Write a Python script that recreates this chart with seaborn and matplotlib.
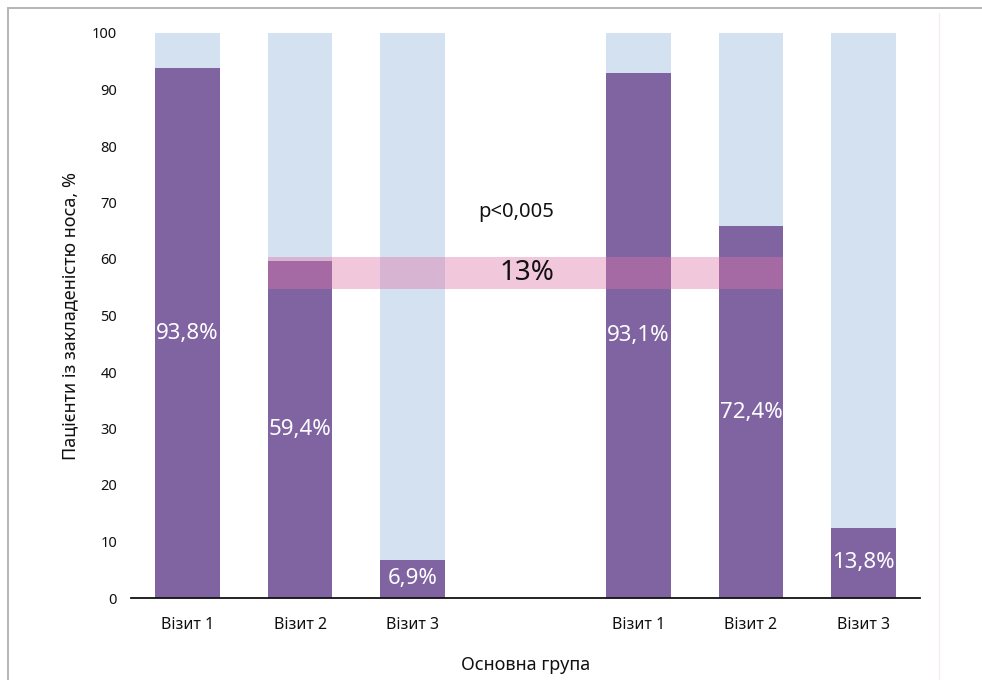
import matplotlib
matplotlib.use("Agg")
import matplotlib.pyplot as plt
from matplotlib.patches import Rectangle
from matplotlib.lines import Line2D
import seaborn as sns
import pandas as pd

# ---- data ----
visits = ["Візит 1", "Візит 2", "Візит 3"]
groups = ["Основна", "Контрольна"]
main_values = [93.8, 59.6, 6.8]          # bar heights as drawn
control_values = [93.0, 65.8, 12.4]
main_labels = ["93,8%", "59,4%", "6,9%"]
control_labels = ["93,1%", "72,4%", "13,8%"]
total = 100
band_low, band_high = 54.7, 60.3
band_text = "13%"
p_text = "p<0,005"
y_label = "Пацієнти із закладеністю носа, %"
x_label = "Основна група"

keys_main = [f"{groups[0]} {v}" for v in visits]
keys_ctrl = [f"{groups[1]} {v}" for v in visits]
order = keys_main + ["gap"] + keys_ctrl
df = pd.DataFrame({
    "key": keys_main + keys_ctrl,
    "value": main_values + control_values,
    "label": main_labels + control_labels,
    "total": [total] * 6,
})

sns.set_theme(style="white")
plt.rcParams["font.family"] = ["Noto Sans", "DejaVu Sans"]

fig = plt.figure(figsize=(9.82, 6.80), dpi=100)
ax = fig.add_axes([131/982, 1-598/680, (920-131)/982, (598-33)/680])

purple = "#8064A2"
lightblue = "#D4E1F1"
w = 0.575
sns.barplot(data=df, x="key", y="total", order=order, color=lightblue,
            width=w, errorbar=None, linewidth=0, saturation=1, ax=ax)
sns.barplot(data=df, x="key", y="value", order=order, color=purple,
            width=w, errorbar=None, linewidth=0, saturation=1, ax=ax)

ax.set_ylim(0, 100)
ax.set_xlim(-0.5, len(order) - 0.5)
ax.set_yticks(range(0, 101, 10))
ax.tick_params(axis="y", length=0, pad=10, labelsize=10.5, colors="#111111")
ax.tick_params(axis="x", length=0, pad=14, labelsize=11.5, colors="#111111")
ax.set_xticks(range(len(order)))
ax.set_xticklabels(visits + [""] + visits)
for s in ["top", "right", "left"]:
    ax.spines[s].set_visible(False)
ax.spines["bottom"].set_color("#111111")
ax.spines["bottom"].set_linewidth(1.3)

ax.set_ylabel(y_label, fontsize=13, labelpad=9, color="#111111")
ax.set_xlabel(x_label, fontsize=13, labelpad=16, color="#111111")

# value labels centered in purple bars
for _, r in df.iterrows():
    xi = order.index(r["key"])
    ax.text(xi, r["value"] / 2, r["label"], ha="center", va="center",
            color="white", fontsize=16, zorder=5)

# highlighted band
i0 = order.index(keys_main[1])
i1 = order.index(keys_ctrl[1])
ax.add_patch(Rectangle((i0 - w/2, band_low), (i1 + w/2) - (i0 - w/2),
                       band_high - band_low, facecolor="#DE73A5", alpha=0.4,
                       linewidth=0, zorder=4))
ax.text(3.01, (band_low + band_high) / 2, band_text, ha="center", va="center",
        fontsize=20, color="#111111", zorder=6)
ax.text(2.92, 68.3, p_text, ha="center", va="center", fontsize=14.5,
        color="#111111", zorder=6)

# frame lines
fig.add_artist(Line2D([8/982, 1], [1-8/680, 1-8/680], transform=fig.transFigure,
                      color="#B4B4B4", linewidth=1.4))
fig.add_artist(Line2D([8/982, 8/982], [0, 1-8/680], transform=fig.transFigure,
                      color="#B4B4B4", linewidth=1.4))
fig.add_artist(Line2D([939/982, 939/982], [0, 1-13/680], transform=fig.transFigure,
                      color="#F6ECE6", linewidth=0.8))

fig.savefig("out.png", dpi=100)
